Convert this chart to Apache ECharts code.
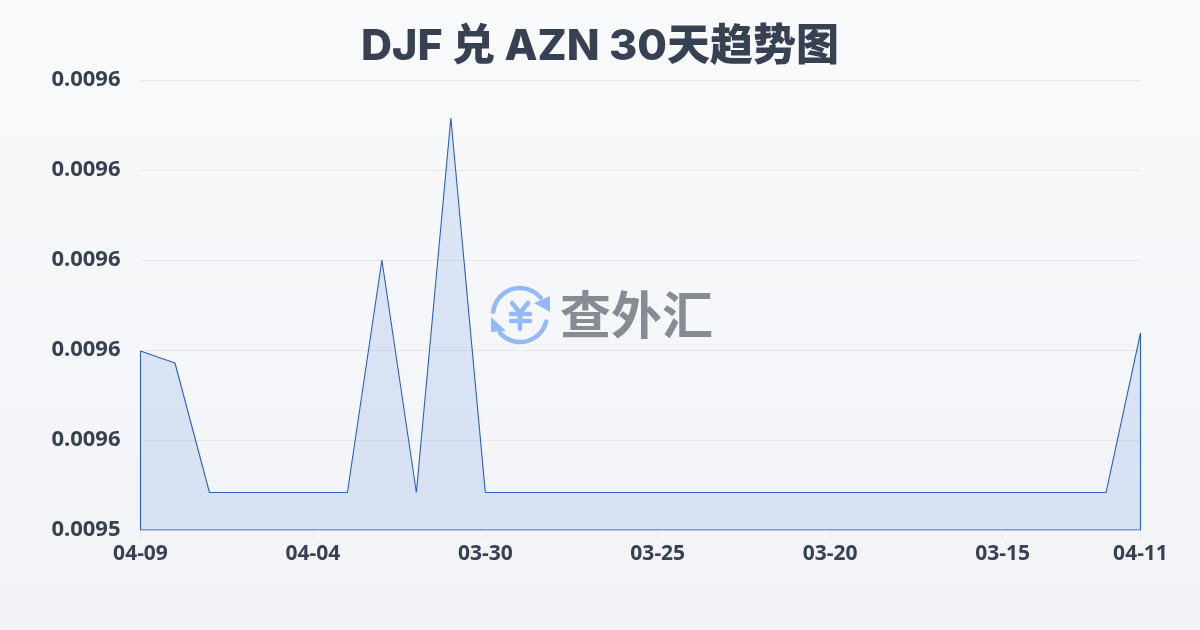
<!DOCTYPE html>
<html><head><meta charset="utf-8">
<style>html,body{margin:0;padding:0;width:1200px;height:630px;background:#f5f7fa}#c{width:1200px;height:630px}</style>
<script src="https://cdn.jsdelivr.net/npm/echarts@6/dist/echarts.min.js"></script>
</head><body><div id="c"></div>
<script>
const titleText = 'DJF 兑 AZN 30天趋势图';
const watermarkText = '查外汇';
const categories = ['04-09','04-08','04-07','04-06','04-05','04-04','04-03','04-02','04-01','03-31','03-30','03-29','03-28','03-27','03-26','03-25','03-24','03-23','03-22','03-21','03-20','03-19','03-18','03-17','03-16','03-15','03-14','03-13','03-12','04-11'];
const rates = [0.00957978,0.00957711,0.00954833,0.00954833,0.00954833,0.00954833,0.00954833,0.0096,0.00954833,0.00963156,0.00954833,0.00954833,0.00954833,0.00954833,0.00954833,0.00954833,0.00954833,0.00954833,0.00954833,0.00954833,0.00954833,0.00954833,0.00954833,0.00954833,0.00954833,0.00954833,0.00954833,0.00954833,0.00954833,0.00958378];
const axisMin = 0.00954, axisMax = 0.00964, axisStep = 0.00002;
const labelledIdx = [0,5,10,15,20,25,29];

const LINE = '#2a5fc8', INK = '#374151', ICON = '#94b9f9';
const TITLE_FONT = 'Inter,"Noto Sans CJK SC",sans-serif';
const AXIS_FONT = '"Noto Sans",sans-serif';
const outline = [[0,axisMin]].concat(rates.map((v,i)=>[i,v]),[[rates.length-1,axisMin],[0,axisMin]]);
const chart = echarts.init(document.getElementById('c'),null,{renderer:'canvas'});
const stroke = (w)=>({stroke:ICON,fill:null,lineWidth:w,lineCap:'round',lineJoin:'round'});
chart.setOption({
  animation:false,
  backgroundColor:new echarts.graphic.LinearGradient(0,0,0,1,[{offset:0,color:'#f8fafc'},{offset:1,color:'#f1f3f6'}]),
  title:{text:titleText,left:'center',top:21,textStyle:{fontFamily:TITLE_FONT,fontSize:43,fontWeight:800,color:INK}},
  grid:{left:140.5,right:59.5,top:80,bottom:100,containLabel:false},
  xAxis:{type:'category',data:categories,boundaryGap:false,
    axisLine:{show:false},
    axisTick:{show:true,alignWithLabel:true,interval:(i)=>labelledIdx.includes(i),length:8,lineStyle:{color:'#e5e7eb'}},
    axisLabel:{interval:(i)=>labelledIdx.includes(i),hideOverlap:false,margin:14,fontFamily:AXIS_FONT,fontSize:21,fontWeight:700,color:INK},
    splitLine:{show:false}},
  yAxis:{type:'value',min:axisMin,max:axisMax,interval:axisStep,
    axisLine:{show:false},axisTick:{show:false},
    axisLabel:{margin:20,formatter:(v)=>v.toFixed(4),fontFamily:AXIS_FONT,fontSize:22,fontWeight:700,color:INK},
    splitLine:{show:true,lineStyle:{color:'#e5e7eb',width:1}}},
  series:[
    {type:'line',data:rates,showSymbol:false,symbol:'none',smooth:false,lineStyle:{width:0},areaStyle:{color:'rgba(42,95,210,0.18)'},z:3},
    {type:'line',data:outline,showSymbol:false,symbol:'none',smooth:false,lineStyle:{color:LINE,width:1.1},z:4}
  ],
  graphic:{elements:[
    {type:'arc',z:1,shape:{cx:520,cy:315,r:27,startAngle:187*Math.PI/180,endAngle:320*Math.PI/180,clockwise:true},style:stroke(4.5)},
    {type:'arc',z:1,shape:{cx:520,cy:315,r:27,startAngle:14*Math.PI/180,endAngle:138*Math.PI/180,clockwise:true},style:stroke(4.5)},
    {type:'polygon',z:1,shape:{points:[[550,296],[550,312],[534,303]]},style:{fill:ICON}},
    {type:'polygon',z:1,shape:{points:[[491,317],[491,332],[506,331]]},style:{fill:ICON}},
    {type:'polyline',z:1,shape:{points:[[512,303],[520,313],[528,303]]},style:stroke(4.5)},
    {type:'line',z:1,shape:{x1:511,y1:314,x2:530,y2:314},style:stroke(4.5)},
    {type:'line',z:1,shape:{x1:511,y1:321,x2:530,y2:321},style:stroke(4.5)},
    {type:'line',z:1,shape:{x1:520,y1:314,x2:520,y2:329},style:stroke(4.5)},
    {type:'text',z:1,x:560,y:289,style:{text:watermarkText,fontFamily:'"Noto Sans CJK SC",sans-serif',fontSize:51,fontWeight:700,fill:'#868b94'}}
  ]}
});
</script></body></html>
